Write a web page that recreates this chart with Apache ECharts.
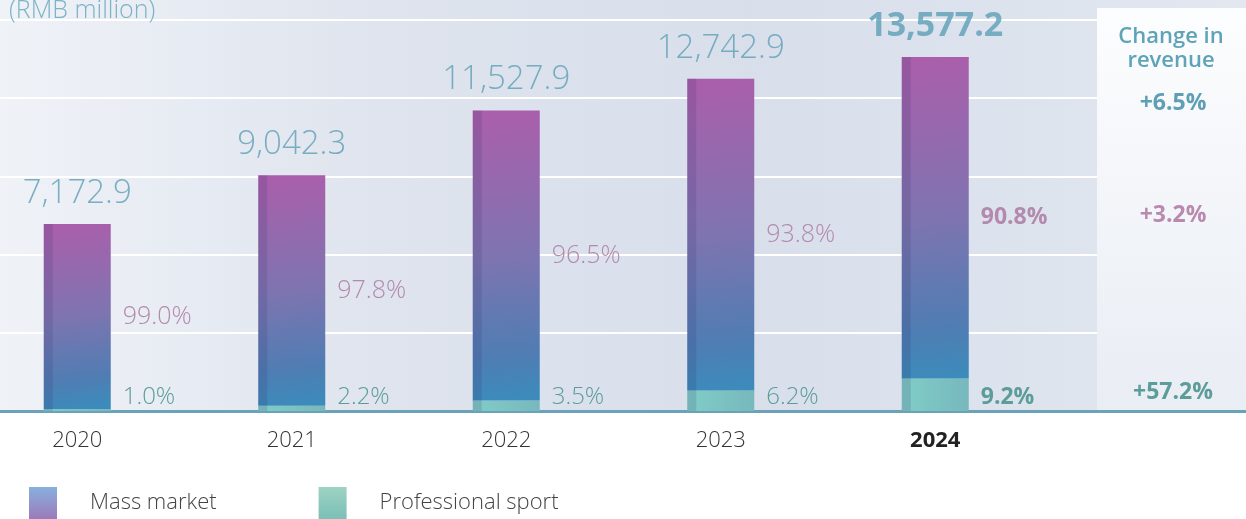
<!DOCTYPE html>
<html>
<head>
<meta charset="utf-8">
<script src="https://cdn.jsdelivr.net/npm/echarts@6/dist/echarts.min.js"></script>
<style>
  html, body { margin: 0; padding: 0; background: #fff; }
  #main { width: 1246px; height: 519px; }
</style>
</head>
<body>
<div id="main"></div>
<script>
// data
var years = ['2020', '2021', '2022', '2023', '2024'];
var totals = [7172.9, 9042.3, 11527.9, 12742.9, 13577.2];
var massPct = [99.0, 97.8, 96.5, 93.8, 90.8];
var proPct = [1.0, 2.2, 3.5, 6.2, 9.2];
var changeTotal = '+6.5%';
var changeMass = '+3.2%';
var changePro = '+57.2%';

var FONT = 'Open Sans';
var BLUE = '#5d9fb5';
var PINK = '#b389ae';
var TEAL = '#5c9c99';

// extra empty slot on the right for the "Change in revenue" panel
var cats = years.concat(['']);
var massVals = totals.map(function (t, i) { return +(t * massPct[i] / 100).toFixed(1); });
var proVals = totals.map(function (t, i) { return +(t * proPct[i] / 100).toFixed(1); });
var last = years.length - 1;

var chartDom = document.getElementById('main');
var myChart = echarts.init(chartDom);
var option;

var massColor = new echarts.graphic.LinearGradient(0, 0, 0.35, 1, [
  { offset: 0, color: '#ab5eab' },
  { offset: 0.5, color: '#7f74b0' },
  { offset: 0.85, color: '#4f7db3' },
  { offset: 1, color: '#3c8bbb' }
]);
var proColor = new echarts.graphic.LinearGradient(0, 0, 1, 0, [
  { offset: 0, color: '#80cdc7' },
  { offset: 1, color: '#77b8bd' }
]);

option = {
  animation: false,
  textStyle: { fontFamily: FONT },
  grid: { left: -30, right: -11, top: 20, bottom: 108, outerBoundsMode: 'none', containLabel: false },
  graphic: [
    {
      type: 'rect', z: -100, silent: true,
      shape: { x: 0, y: 0, width: 1246, height: 411 },
      style: {
        fill: new echarts.graphic.LinearGradient(0, 0, 1, 0, [
          { offset: 0, color: '#eff2f7' },
          { offset: 0.3, color: '#dfe4ee' },
          { offset: 0.6, color: '#d8dfeb' },
          { offset: 1, color: '#e2e7f0' }
        ])
      }
    },
    {
      type: 'rect', z: 10, silent: true,
      shape: { x: 1097, y: 8, width: 149, height: 402 },
      style: {
        fill: new echarts.graphic.LinearGradient(0, 0, 0, 1, [
          { offset: 0, color: '#fcfdfe' },
          { offset: 1, color: '#e9edf4' }
        ])
      }
    },
    {
      type: 'text', z: 11, left: 9, top: -2,
      style: { text: '(RMB million)', font: '300 25px ' + FONT, fill: '#7db3c6' }
    },
    {
      type: 'text', z: 11, x: 1171, y: 25,
      style: { text: 'Change in\nrevenue', font: '600 22px ' + FONT, fill: '#5ea3b8', align: 'center', lineHeight: 24 }
    },
    {
      type: 'text', z: 11, x: 1173, y: 92,
      style: { text: changeTotal, font: 'bold 23px ' + FONT, fill: '#5e9fb5', align: 'center' }
    },
    {
      type: 'text', z: 11, x: 1173, y: 204,
      style: { text: changeMass, font: 'bold 23px ' + FONT, fill: '#b98aae', align: 'center' }
    },
    {
      type: 'text', z: 11, x: 1173, y: 381,
      style: { text: changePro, font: 'bold 23px ' + FONT, fill: TEAL, align: 'center' }
    }
  ],
  legend: {
    left: 29,
    top: 487,
    padding: 0,
    itemWidth: 28,
    itemHeight: 32,
    itemGap: 102,
    selectedMode: false,
    textStyle: { fontFamily: FONT, fontSize: 22, fontWeight: 300, color: '#444', padding: [4, 0, 0, 28] },
    data: [
      {
        name: 'Mass market', icon: 'rect',
        itemStyle: { color: new echarts.graphic.LinearGradient(0, 0, 0, 1, [
          { offset: 0, color: '#88b0de' }, { offset: 1, color: '#9b7bba' }]) }
      },
      {
        name: 'Professional sport', icon: 'rect',
        itemStyle: { color: new echarts.graphic.LinearGradient(0, 0, 0, 1, [
          { offset: 0, color: '#9dd3c1' }, { offset: 1, color: '#7bbfb8' }]) }
      }
    ]
  },
  xAxis: {
    type: 'category',
    data: cats,
    axisLine: { lineStyle: { color: '#6aa3b8', width: 3 } },
    axisTick: { show: false },
    axisLabel: {
      margin: 19,
      fontSize: 22,
      fontWeight: 300,
      color: '#333',
      fontFamily: FONT,
      formatter: function (v, i) { return i === last ? '{b|' + v + '}' : v; },
      rich: { b: { fontSize: 22, fontWeight: 'bold', color: '#222', fontFamily: FONT } }
    }
  },
  yAxis: {
    type: 'value',
    min: 0,
    max: 15000,
    interval: 3000,
    axisLabel: { show: false },
    axisLine: { show: false },
    axisTick: { show: false },
    splitLine: { lineStyle: { color: '#ffffff', width: 2 } }
  },
  series: [
    {
      name: 'Professional sport',
      type: 'bar',
      stack: 'rev',
      barWidth: 67,
      itemStyle: { color: proColor },
      data: proVals.map(function (v, i) {
        return {
          value: v,
          label: i === last ? { fontWeight: 'bold', fontSize: 23 } : undefined
        };
      }),
      label: {
        show: true,
        position: 'insideBottomRight',
        distance: 0,
        align: 'left',
        verticalAlign: 'bottom',
        offset: [12, -2],
        fontSize: 24,
        fontWeight: 300,
        fontFamily: FONT,
        color: TEAL,
        formatter: function (p) { return proPct[p.dataIndex].toFixed(1) + '%'; }
      }
    },
    {
      name: 'Mass market',
      type: 'bar',
      stack: 'rev',
      barWidth: 67,
      itemStyle: { color: massColor },
      data: massVals.map(function (v, i) {
        return {
          value: v,
          label: i === last ? { fontWeight: 'bold', fontSize: 23 } : undefined
        };
      }),
      label: {
        show: true,
        position: 'right',
        distance: 12,
        fontSize: 25,
        fontWeight: 300,
        fontFamily: FONT,
        color: PINK,
        formatter: function (p) { return massPct[p.dataIndex].toFixed(1) + '%'; }
      }
    },
    {
      // darker strip on the left side of every bar
      name: 'strip',
      type: 'custom',
      silent: true,
      z: 3,
      data: totals.map(function (t, i) { return [i, t]; }),
      renderItem: function (params, api) {
        var top = api.coord([api.value(0), api.value(1)]);
        var base = api.coord([api.value(0), 0]);
        return {
          type: 'rect',
          shape: { x: top[0] - 33.5, y: top[1], width: 9, height: base[1] - top[1] },
          style: { fill: 'rgba(50,40,100,0.15)' }
        };
      }
    },
    {
      name: 'total',
      type: 'scatter',
      symbolSize: 0,
      silent: true,
      data: totals.map(function (t, i) {
        return {
          value: t,
          label: i === last ? { fontWeight: 'bold', fontSize: 34 } : undefined
        };
      }),
      label: {
        show: true,
        position: 'top',
        distance: 14,
        fontSize: 33,
        fontWeight: 300,
        fontFamily: FONT,
        color: BLUE,
        formatter: function (p) {
          return totals[p.dataIndex].toLocaleString('en-US', { minimumFractionDigits: 1, maximumFractionDigits: 1 });
        }
      }
    }
  ]
};

option && myChart.setOption(option);
</script>
</body>
</html>
